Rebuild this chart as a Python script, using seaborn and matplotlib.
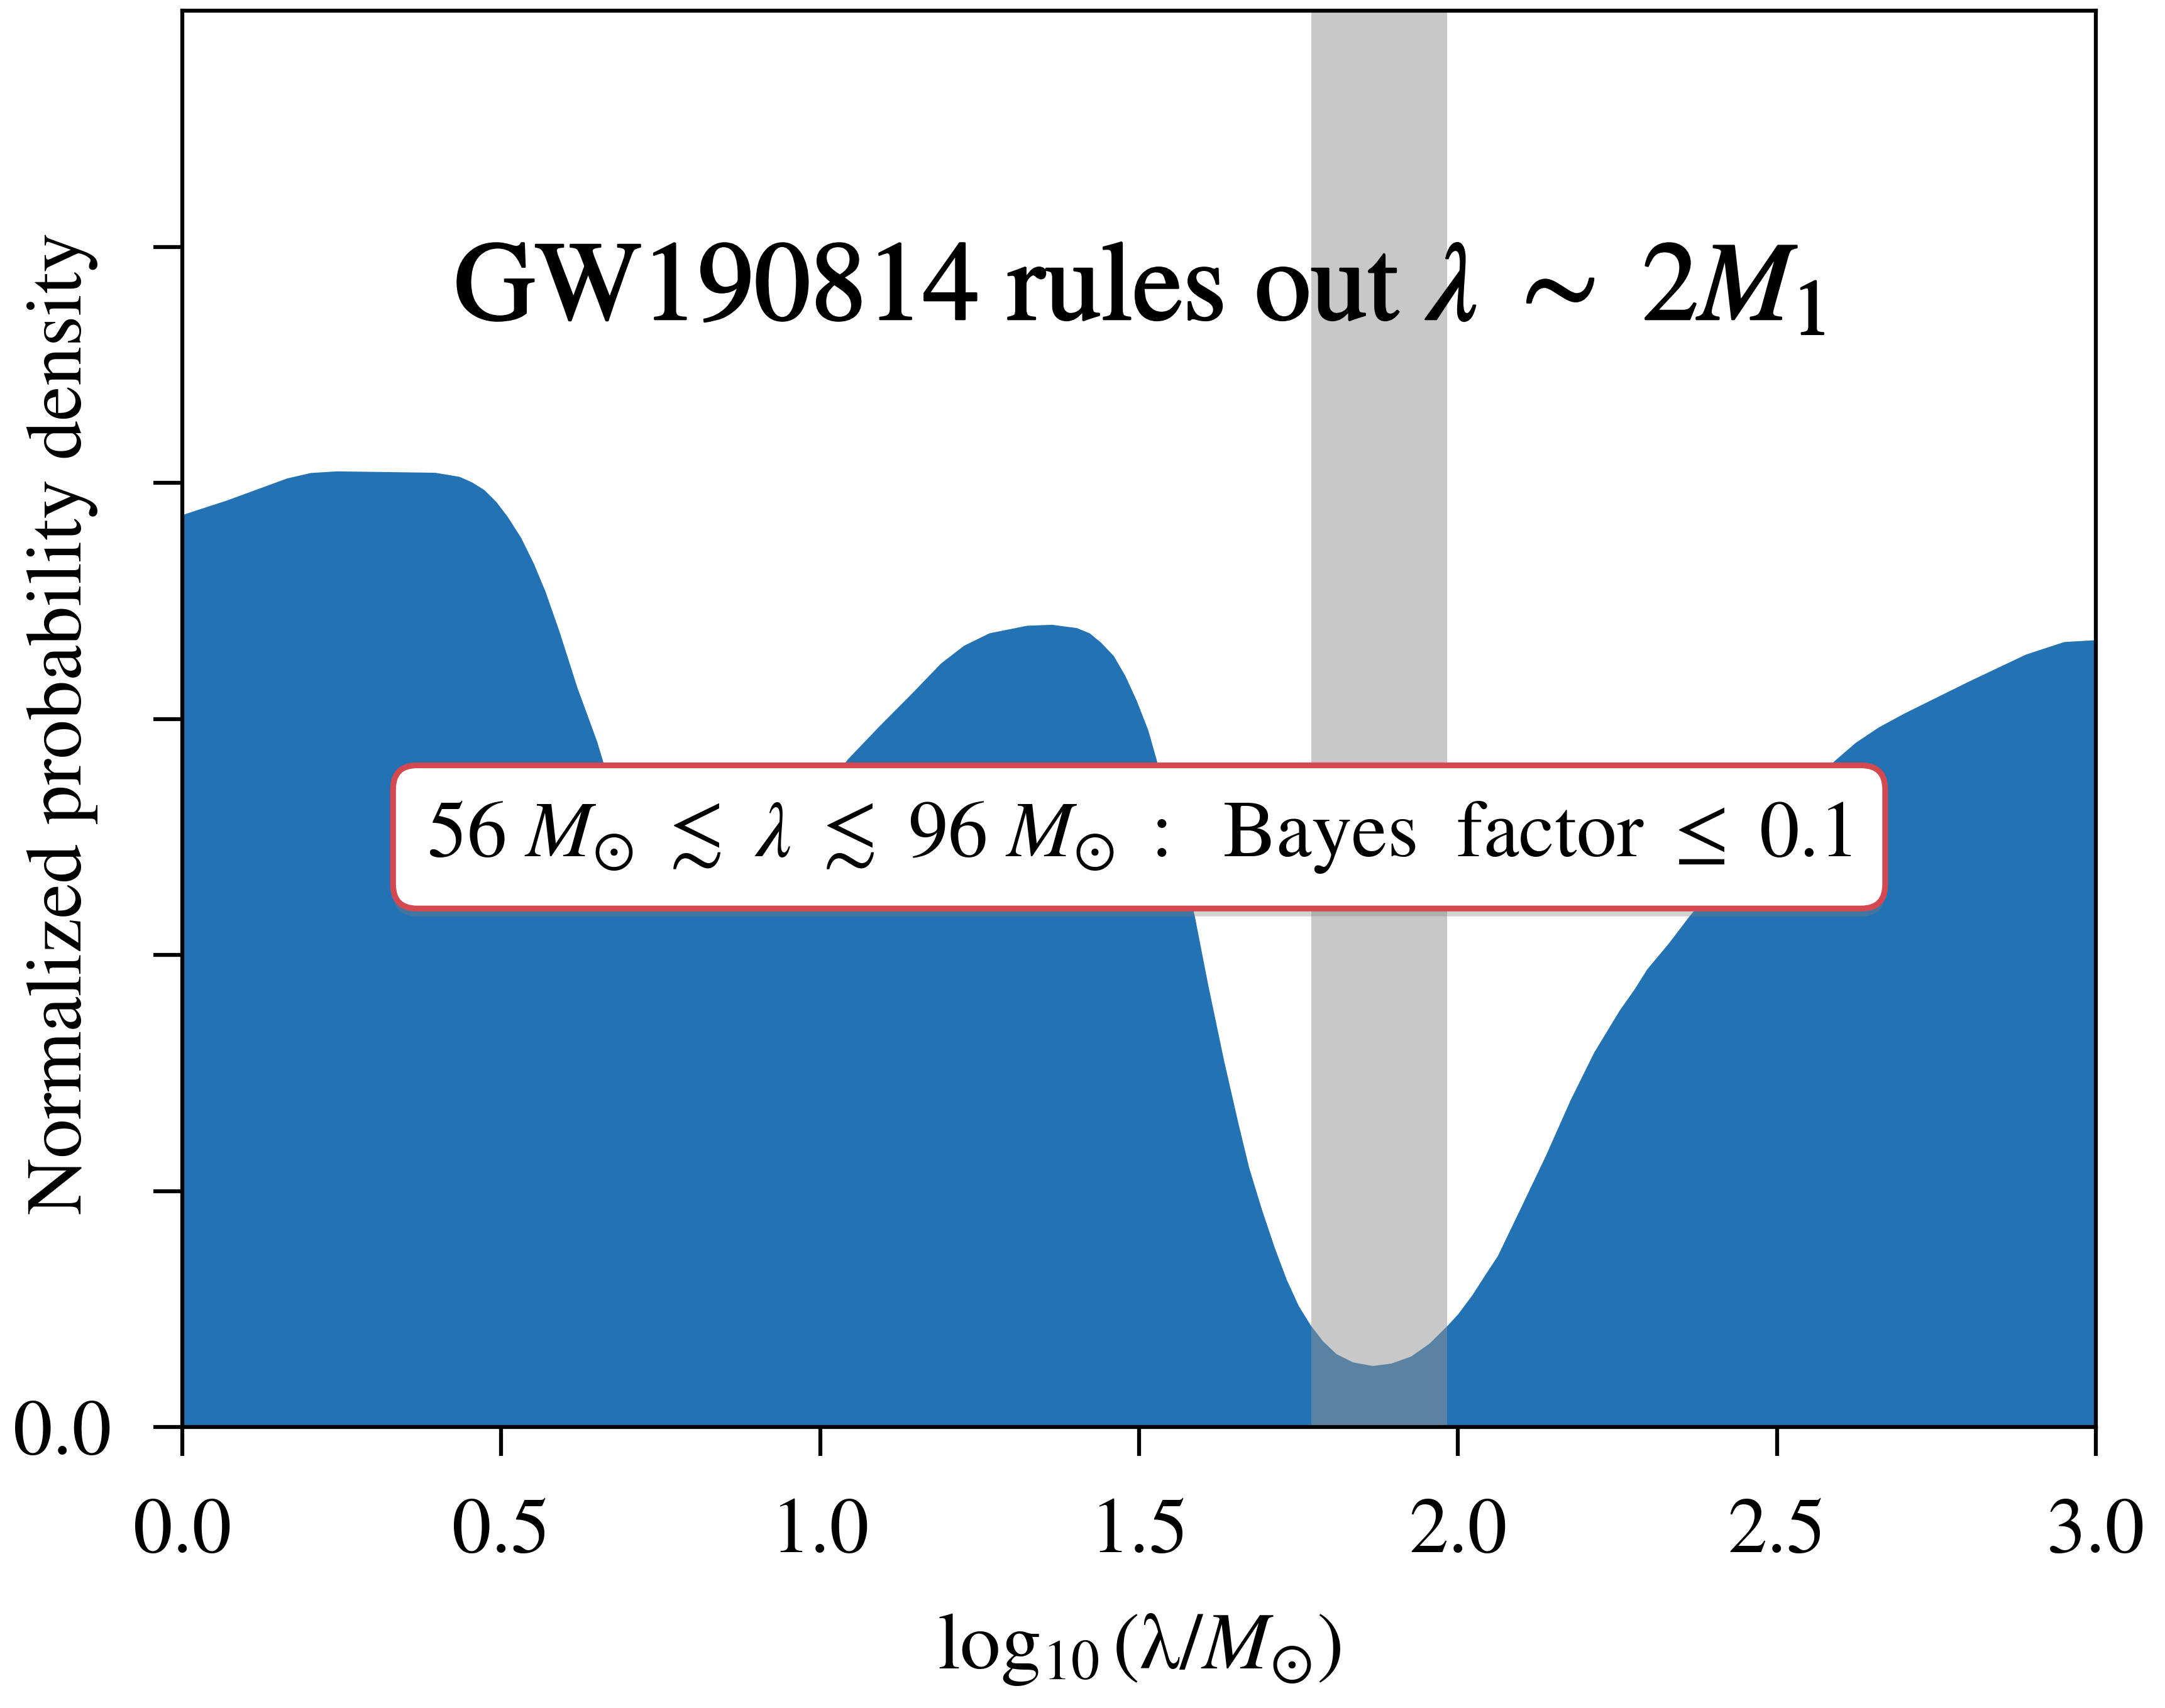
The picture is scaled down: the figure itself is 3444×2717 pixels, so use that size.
import numpy as np
import matplotlib
matplotlib.use("Agg")
import matplotlib.pyplot as plt
import matplotlib.patheffects as pe
import seaborn as sns

# posterior on log10(lambda / Msun)
log_lam = [0.0, 0.028, 0.069, 0.164, 0.201, 0.242, 0.32, 0.396, 0.434, 0.454,
           0.473, 0.492, 0.510, 0.531, 0.551, 0.569, 0.591, 0.619, 0.650, 0.675,
           0.71, 0.76, 0.83, 0.90, 0.97, 1.043, 1.094, 1.143, 1.189, 1.225,
           1.265, 1.324, 1.363, 1.402, 1.422, 1.440, 1.460, 1.478, 1.496, 1.514,
           1.527, 1.557, 1.587, 1.608, 1.633, 1.655, 1.672, 1.692, 1.712, 1.731,
           1.750, 1.769, 1.788, 1.809, 1.835, 1.866, 1.895, 1.926, 1.955, 1.983,
           2.000, 2.022, 2.042, 2.062, 2.099, 2.137, 2.176, 2.213, 2.253, 2.276,
           2.296, 2.330, 2.363, 2.45, 2.52, 2.593, 2.623, 2.659, 2.700, 2.801,
           2.890, 2.950, 3.0]
density = [0.3865, 0.389, 0.3926, 0.402, 0.4043, 0.405, 0.4047, 0.4044, 0.4027, 0.4003,
           0.3971, 0.392, 0.3856, 0.3767, 0.3657, 0.354, 0.337, 0.3133, 0.2904, 0.268,
           0.248, 0.235, 0.230, 0.237, 0.257, 0.283, 0.2974, 0.3107, 0.3236, 0.3311,
           0.3364, 0.3396, 0.340, 0.3386, 0.3364, 0.3324, 0.3267, 0.3183, 0.3077, 0.2952,
           0.2828, 0.250, 0.2163, 0.1872, 0.155, 0.129, 0.110, 0.0923, 0.0762, 0.0625,
           0.0513, 0.043, 0.0364, 0.031, 0.0275, 0.026, 0.027, 0.030, 0.0355, 0.043,
           0.048, 0.056, 0.0644, 0.0726, 0.0934, 0.1149, 0.1386, 0.1588, 0.1766, 0.1854,
           0.194, 0.205, 0.2167, 0.244, 0.265, 0.283, 0.290, 0.2965, 0.3025, 0.316,
           0.3274, 0.3327, 0.3335]

# excluded region (Bayes factor <= 0.1)
band_lo = 1.77
band_hi = 1.983

x_ticks = [0.0, 0.5, 1.0, 1.5, 2.0, 2.5, 3.0]
y_ticks = [0.0, 0.1, 0.2, 0.3, 0.4, 0.5]
y_ticklabels = ["0.0", "", "", "", "", ""]

title_txt = r"GW190814 rules out $\lambda\ \sim\ 2M_1$"
box_txt = (r"$56\ M_{\odot}\ \lesssim\ \lambda\ \lesssim\ 96\ M_{\odot}\ :\ \ "
           r"\mathrm{Bayes\ \ factor}\ \leq\ 0.1$")

sns.set_theme(style="ticks")
plt.rcParams["font.family"] = ["STIXGeneral", "DejaVu Serif"]
plt.rcParams["mathtext.fontset"] = "stix"
plt.rcParams["text.color"] = "black"
plt.rcParams["axes.labelcolor"] = "black"

blue = "#2272b4"

fig = plt.figure(figsize=(11.48, 9.0567), dpi=300)
ax = fig.add_axes([0.0842, 0.1645, 0.8839, 0.8292])

sns.lineplot(x=log_lam, y=density, ax=ax, color=blue, linewidth=0)
ax.fill_between(log_lam, density, 0, color=blue, linewidth=0, zorder=1)
ax.axvspan(band_lo, band_hi, color="#929292", alpha=0.5, linewidth=0, zorder=2)

ax.set_xlim(0, 3)
ax.set_ylim(0, 0.6)
ax.set_xticks(x_ticks)
ax.set_xticklabels([f"{t:.1f}" for t in x_ticks])
ax.set_yticks(y_ticks)
ax.set_yticklabels(y_ticklabels)

for s in ax.spines.values():
    s.set_linewidth(1.5)
    s.set_color("black")
    s.set_zorder(5)
ax.tick_params(axis="both", direction="out", length=11, width=1.5,
               labelsize=30, pad=16, color="black", labelcolor="black")

ax.set_xlabel(r"$\log_{10}(\mathrm{\lambda}/M_{\odot})$", fontsize=31)
ax.set_ylabel("Normalized probability density", fontsize=30)
ax.xaxis.set_label_coords(0.5, -0.157)
ax.xaxis.label.set_va("center")
ax.yaxis.set_label_coords(-0.0627, 0.497)
ax.yaxis.label.set_va("center")

title = ax.text(1.5, 0.48, title_txt, fontsize=43, ha="center", va="center",
                color="black", zorder=6)
title.set_path_effects([pe.withStroke(linewidth=0.7, foreground="black")])

t = ax.text(1.5, 0.25, box_txt, fontsize=30.5, ha="center", va="center",
            color="black", zorder=7,
            bbox=dict(boxstyle="round,pad=0.42,rounding_size=0.3",
                      facecolor="white", edgecolor="#d4494f", linewidth=2.2))
t.get_bbox_patch().set_path_effects([
    pe.SimplePatchShadow(offset=(0, -3), shadow_rgbFace="gray", alpha=0.35),
    pe.Normal()])

fig.savefig("out.png", dpi=300)
